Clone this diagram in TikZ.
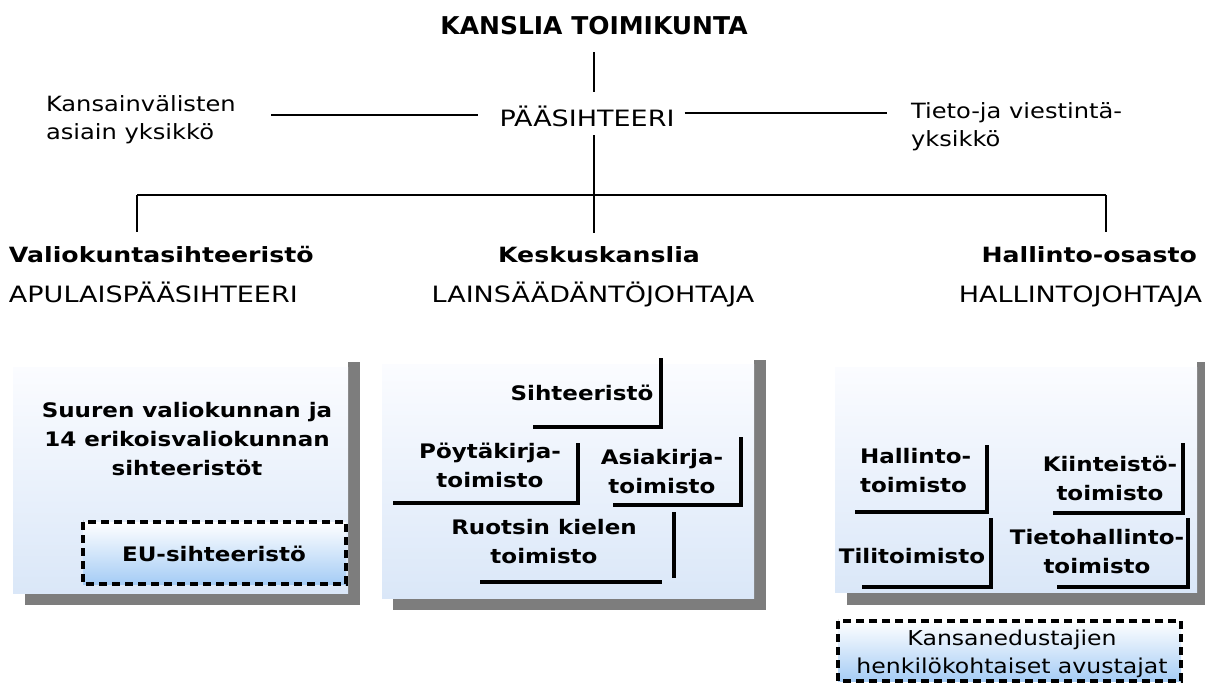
\documentclass[tikz,border=0pt]{standalone}
\usepackage{fontspec}
\newfontfamily\titlefont{DejaVu Sans}[FakeStretch=1.02]
\newfontfamily\widefont{DejaVu Sans}[FakeStretch=1.2]
\newfontfamily\plainfont{DejaVu Sans}[FakeStretch=1.15]
\definecolor{panelTop}{RGB}{251,252,255}
\definecolor{panelBottom}{RGB}{218,231,248}
\definecolor{boxBottom}{RGB}{165,204,245}
\definecolor{shadowgray}{RGB}{125,125,125}
\begin{document}
\begin{tikzpicture}[x=1pt,y=-1pt,
  every node/.style={inner sep=0pt,outer sep=0pt},
  title/.style={font=\titlefont\bfseries\fontsize{24.5}{28}\selectfont},
  heading/.style={font=\widefont\bfseries\fontsize{21}{26}\selectfont},
  role/.style={font=\widefont\fontsize{22.5}{28}\selectfont},
  unit/.style={font=\plainfont\fontsize{21}{28}\selectfont,align=left},
  office/.style={font=\plainfont\bfseries\fontsize{20}{29}\selectfont,align=center},
  note/.style={font=\plainfont\fontsize{20.5}{28}\selectfont,align=center},
  link/.style={line width=1.5pt},
  bracket/.style={line width=4.5pt,line join=miter},
  panel/.style={top color=panelTop,bottom color=panelBottom,draw=none},
  shadowstrip/.style={fill=shadowgray},
  dashbox/.style={top color=white,bottom color=boxBottom,draw=black,line width=4pt,dash pattern=on 8pt off 5pt},
]
\useasboundingbox (0,0) rectangle (1205,687);

% ---- top of the organisation (multi-line nodes are placed by their last baseline)
\node[title,anchor=base] (kt) at (594,35) {KANSLIA TOIMIKUNTA};
\node[role,anchor=base] (ps) at (587,127) {PÄÄSIHTEERI};
\node[unit,anchor=base west] (kv) at (46,140) {Kansainvälisten\\asiain yksikkö};
\node[unit,anchor=base west] (tv) at (911,147) {Tieto-ja viestintä-\\yksikkö};

\node[heading,anchor=base west] (vs) at (9,262) {Valiokuntasihteeristö};
\node[heading,anchor=base] (kk) at (599,262) {Keskuskanslia};
\node[heading,anchor=base east] (ho) at (1197,262) {Hallinto-osasto};
\node[role,anchor=base west] (aps) at (9,302) {APULAISPÄÄSIHTEERI};
\node[role,anchor=base] (lsj) at (593,302) {LAINSÄÄDÄNTÖJOHTAJA};
\node[role,anchor=base east] (hj) at (1202,302) {HALLINTOJOHTAJA};

% ---- connectors
\coordinate (bus) at (594,195);
\coordinate (busL) at (137,195);
\coordinate (busR) at (1106,195);
\draw[link] ([yshift=-17pt]kt.south) -- ([yshift=14pt]kt.south |- ps.north);
\draw[link] ([xshift=-22pt]ps.west |- 0,115) -- ([xshift=-229pt]ps.west |- 0,115);
\draw[link] ([xshift=10pt]ps.east |- 0,113) -- ([xshift=212pt]ps.east |- 0,113);
\draw[link] ([yshift=-8pt]bus |- ps.south) -- (bus |- 0,233);
\draw[link] (busL) -- (busR);
\draw[link] (busL) -- (busL |- 0,232);
\draw[link] (busR) -- (busR |- 0,232);

% ---- panel shadows
\fill[shadowstrip] (348,362) rectangle (360,605);
\fill[shadowstrip] (25,593) rectangle (360,605);
\fill[shadowstrip] (754,360) rectangle (766,610);
\fill[shadowstrip] (393,598) rectangle (766,610);
\fill[shadowstrip] (1197,362) rectangle (1205,605);
\fill[shadowstrip] (847,592) rectangle (1205,605);

% ---- panels
\path[panel] (13,367) rectangle (348,593);
\path[panel] (382,364) rectangle (754,598);
\path[panel] (835,367) rectangle (1197,592);

% ---- committee secretariats
\node[office,anchor=base] (sv) at (187,475) {Suuren valiokunnan ja\\14 erikoisvaliokunnan\\sihteeristöt};
\path[dashbox] (83,522) rectangle (346,584);
\node[office,anchor=base] (eu) at (214,561) {EU-sihteeristö};

% ---- central office
\draw[bracket] (533,427) -| (661,358);
\node[office,anchor=base] (sih) at (582,400) {Sihteeristö};
\draw[bracket] (393,503) -| (578,443);
\node[office,anchor=base] (pk) at (490,487) {Pöytäkirja-\\toimisto};
\draw[bracket] (613,505) -| (741,437);
\node[office,anchor=base] (ak) at (662,493) {Asiakirja-\\toimisto};
\draw[bracket] (480,582) -- (662,582);
\draw[bracket] (674,512) -- (674,578);
\node[office,anchor=base] (rk) at (544,563) {Ruotsin kielen\\toimisto};

% ---- administration
\draw[bracket] (855,512) -| (987,445);
\node[office,anchor=base west,align=left] (hto) at (860,492) {Hallinto-\\toimisto};
\draw[bracket] (1053,513) -| (1183,443);
\node[office,anchor=base] (kit) at (1110,500) {Kiinteistö-\\toimisto};
\draw[bracket] (862,587) -| (991,518);
\node[office,anchor=base] (tt) at (912,563) {Tilitoimisto};
\draw[bracket] (1057,587) -| (1188,518);
\node[office,anchor=base] (tht) at (1097,573) {Tietohallinto-\\toimisto};

\path[dashbox] (838,621) rectangle (1181,681);
\node[note,anchor=base] (ka) at (1012,673) {Kansanedustajien\\henkilökohtaiset avustajat};
\end{tikzpicture}
\end{document}
